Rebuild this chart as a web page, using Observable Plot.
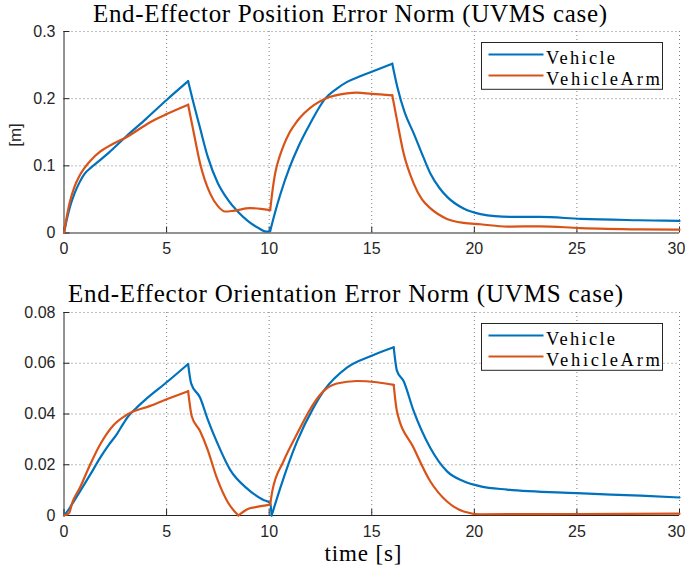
<!DOCTYPE html>
<html>
<head>
<meta charset="utf-8">
<script src="https://cdn.jsdelivr.net/npm/d3@7"></script>
<script src="https://cdn.jsdelivr.net/npm/@observablehq/plot@0.6"></script>
<style>
  html, body { margin: 0; padding: 0; background: #fff; }
  #wrap { position: relative; width: 685px; height: 572px; overflow: hidden; }
  #wrap > div.panel { position: absolute; left: 0; }
  #overlay { position: absolute; left: 0; top: 0; pointer-events: none; }
  .serif { font-family: "Liberation Serif", "Times New Roman", serif; fill: #000; }
  .sans { font-family: "Liberation Sans", Arial, sans-serif; fill: #262626; }
</style>
</head>
<body>
<div id="wrap">
  <div class="panel" id="top" style="top:0px"></div>
  <div class="panel" id="bottom" style="top:280px"></div>
  <svg id="overlay" width="685" height="572"></svg>
</div>
<script>
// ---------------- data ----------------
const seriesNames = ["Vehicle", "VehicleArm"];
const xTicks = [0, 5, 10, 15, 20, 25, 30];
const posTicks = [0, 0.1, 0.2, 0.3];
const oriTicks = [0, 0.02, 0.04, 0.06, 0.08];
const titles = ["End-Effector Position Error Norm (UVMS case)", "End-Effector Orientation Error Norm (UVMS case)"];
const yLabelTop = "[m]";
const xLabel = "time [s]";

// Position error, Vehicle
const posVehicleT = [0, 0.15, 0.3, 0.5, 0.75, 1.0, 1.3, 1.7, 2.2, 3.0, 4.0, 5.0, 6.05,
  6.3, 6.6, 7.0, 7.5, 8.0, 8.5, 9.0, 9.5, 9.85, 10.05,
  10.3, 10.55, 11.0, 11.4, 12.0, 12.73, 13.3, 13.8, 14.4, 15.0, 16.0,
  16.25, 16.6, 17.05, 17.5, 17.85, 18.3, 18.7, 19.5, 20.3, 21, 22, 23.2, 25.2, 28, 30];
const posVehicleV = [0, 0.022, 0.04, 0.058, 0.075, 0.088, 0.097, 0.107, 0.12, 0.143, 0.170, 0.198, 0.226,
  0.195, 0.16, 0.114, 0.074, 0.049, 0.031, 0.017, 0.007, 0.002, 0.003,
  0.032, 0.058, 0.098, 0.127, 0.163, 0.2, 0.215, 0.225, 0.233, 0.24, 0.252,
  0.217, 0.18, 0.148, 0.114, 0.089, 0.067, 0.053, 0.036, 0.028, 0.025, 0.024, 0.024, 0.021, 0.019, 0.018];
const posVehicleBreaks = [6.05, 10.05, 16.0];

// Position error, VehicleArm
const posArmT = [0, 0.15, 0.3, 0.5, 0.75, 1.0, 1.3, 1.76, 2.4, 3.06, 4.2, 5.0, 6.05,
  6.3, 6.63, 7.12, 7.5, 7.85, 8.25, 9.07, 9.6, 10.05,
  10.15, 10.3, 10.5, 10.7, 11.0, 11.35, 12.16, 12.73, 13.79, 14.28, 15.0, 16.0,
  16.23, 16.55, 17.04, 17.45, 17.85, 18.67, 19.48, 20.3, 21.6, 23.2, 25.17, 28.1, 30];
const posArmV = [0, 0.027, 0.048, 0.068, 0.085, 0.097, 0.108, 0.121, 0.133, 0.143, 0.165, 0.177, 0.191,
  0.153, 0.104, 0.059, 0.04, 0.032, 0.033, 0.037, 0.036, 0.034,
  0.06, 0.09, 0.113, 0.13, 0.15, 0.166, 0.19, 0.2, 0.208, 0.209, 0.207, 0.205,
  0.168, 0.119, 0.074, 0.05, 0.037, 0.021, 0.015, 0.013, 0.0095, 0.010, 0.0074, 0.0055, 0.005];
const posArmBreaks = [6.05, 10.05, 16.0];

// Orientation error, Vehicle
const oriVehicleT = [0, 0.2, 0.37, 0.78, 1.27, 1.76, 2.2, 2.57, 2.9, 3.14, 3.5, 4.0, 5.05, 6.05,
  6.2, 6.63, 7.0, 7.45, 8.1, 8.9, 9.7, 10.05, 10.12,
  10.54, 11.35, 12.16, 12.65, 13.79, 15.0, 16.07,
  16.23, 16.55, 17.04, 17.85, 18.67, 19.48, 20.3, 21.6, 25, 28.1, 30];
const oriVehicleV = [0, 0.002, 0.0042, 0.0095, 0.016, 0.0227, 0.028, 0.032, 0.0363, 0.0392, 0.0422, 0.0459, 0.0528, 0.0597,
  0.052, 0.0465, 0.038, 0.029, 0.018, 0.0108, 0.0062, 0.0049, 0,
  0.0108, 0.029, 0.0425, 0.049, 0.0583, 0.063, 0.0663,
  0.057, 0.053, 0.0412, 0.0267, 0.0174, 0.0135, 0.0115, 0.0102, 0.0088, 0.0078, 0.0071];
const oriVehicleBreaks = [6.05, 10.12, 16.07];

// Orientation error, VehicleArm
const oriArmT = [0, 0.25, 0.4, 0.78, 1.27, 1.76, 2.4, 3.06, 4.2, 5.0, 6.05,
  6.23, 6.63, 7.0, 7.45, 8.0, 8.5,
  8.91, 9.4, 10.05,
  10.15, 10.7, 11.35, 12.16, 12.65, 13.3, 14.28, 15.25, 16.07,
  16.23, 17.04, 17.85, 18.67, 19.48, 20.3, 25, 30];
const oriArmV = [0, 0.001, 0.005, 0.011, 0.02, 0.028, 0.0355, 0.0397, 0.0432, 0.0458, 0.049,
  0.039, 0.0333, 0.026, 0.0148, 0.005, 0,
  0.0024, 0.0034, 0.0043,
  0.0095, 0.0214, 0.032, 0.044, 0.049, 0.052, 0.053, 0.0525, 0.0515,
  0.041, 0.0267, 0.0135, 0.0055, 0.0016, 0.0005, 0.0006, 0.0007];
const oriArmBreaks = [6.05, 8.5, 10.05, 16.07];

const colors = ["#0072BD", "#D95319"];

// ---------------- helpers ----------------
function toRows(ts, vs, breaks, name) {
  const rows = [];
  ts.forEach((t, i) => {
    const seg = breaks.filter(b => t > b).length;
    rows.push({t, v: vs[i], seg: name + seg});
    if (breaks.includes(t)) rows.push({t, v: vs[i], seg: name + (seg + 1)});
  });
  return rows;
}

const axisColor = "#262626";
const W = 685;

function panel({height, marginTop, marginBottom, yTicks, series}) {
  const marginLeft = 63.5, marginRight = 6;
  const plotW = W - marginLeft - marginRight;
  const plotH = height - marginTop - marginBottom;
  const yMax = yTicks[yTicks.length - 1];
  const lastX = xTicks[xTicks.length - 1];
  return Plot.plot({
    width: W, height, marginLeft, marginRight, marginTop, marginBottom,
    style: {fontFamily: "'Liberation Sans', Arial, sans-serif", fontSize: "16px", color: axisColor, background: "#fff"},
    x: {domain: [0, lastX], label: null},
    y: {domain: [0, yMax], label: null},
    marks: [
      Plot.ruleX(xTicks.filter(d => d > 0), {stroke: axisColor, strokeOpacity: 0.75, strokeDasharray: "1,3", strokeWidth: 0.8}),
      Plot.ruleY(yTicks.filter(d => d > 0), {stroke: axisColor, strokeOpacity: 0.75, strokeDasharray: "1,3", strokeWidth: 0.8}),
      Plot.ruleX(xTicks, {stroke: axisColor, insetTop: plotH - 6}),
      Plot.ruleY(yTicks, {stroke: axisColor, insetRight: plotW - 6}),
      Plot.ruleX([0], {stroke: axisColor}),
      Plot.ruleY([0], {stroke: axisColor}),
      Plot.axisX(xTicks.slice(0, -1), {tickSize: 0, tickPadding: 10, tickFormat: d => String(d), fill: axisColor}),
      Plot.axisX([lastX], {tickSize: 0, tickPadding: 10, tickFormat: d => String(d), fill: axisColor, dx: -3}),
      Plot.axisY(yTicks, {tickSize: 0, tickPadding: 8.5, tickFormat: d => String(d), fill: axisColor}),
      ...series.map((s, i) => Plot.line(s, {x: "t", y: "v", z: "seg", stroke: colors[i], strokeWidth: 2.2, curve: "monotone-x"}))
    ]
  });
}

const topPlot = panel({
  height: 280, marginTop: 31, marginBottom: 47.5, yTicks: posTicks,
  series: [toRows(posVehicleT, posVehicleV, posVehicleBreaks, "a"), toRows(posArmT, posArmV, posArmBreaks, "b")]
});
const botPlot = panel({
  height: 292, marginTop: 32, marginBottom: 57, yTicks: oriTicks,
  series: [toRows(oriVehicleT, oriVehicleV, oriVehicleBreaks, "c"), toRows(oriArmT, oriArmV, oriArmBreaks, "d")]
});
document.getElementById("top").appendChild(topPlot);
document.getElementById("bottom").appendChild(botPlot);

// ---------------- overlay text: titles, labels, legends ----------------
const ov = d3.select("#overlay");
const titleLayout = [{x: 350, y: 22, len: 514}, {x: 345.5, y: 302, len: 555}];
titles.forEach((t, i) => {
  ov.append("text").attr("class", "serif").attr("x", titleLayout[i].x).attr("y", titleLayout[i].y)
    .attr("text-anchor", "middle").attr("textLength", titleLayout[i].len).attr("lengthAdjust", "spacing")
    .style("font-size", "25px").text(t);
});
ov.append("text").attr("class", "sans").attr("transform", "translate(21,135) rotate(-90)")
  .attr("text-anchor", "middle").style("font-size", "17px").text(yLabelTop);
ov.append("text").attr("class", "serif").attr("x", 363).attr("y", 561)
  .attr("text-anchor", "middle").attr("textLength", 77).attr("lengthAdjust", "spacing")
  .style("font-size", "23px").text(xLabel);

const legendTops = [42.5, 323.5];
const legendTextLen = [69, 114];
legendTops.forEach(top => {
  const g = ov.append("g").attr("transform", `translate(481.5,${top})`);
  g.append("rect").attr("width", 181).attr("height", 46.8)
    .attr("fill", "#fff").attr("stroke", axisColor).attr("stroke-width", 1);
  seriesNames.forEach((name, i) => {
    const y = 12 + i * 21;
    g.append("line").attr("x1", 7).attr("x2", 62).attr("y1", y).attr("y2", y)
      .attr("stroke", colors[i]).attr("stroke-width", 2.2);
    g.append("text").attr("class", "serif").attr("x", 64.5).attr("y", y + 9.5)
      .attr("textLength", legendTextLen[i]).attr("lengthAdjust", "spacing")
      .style("font-size", "18.5px").text(name);
  });
});
</script>
</body>
</html>
